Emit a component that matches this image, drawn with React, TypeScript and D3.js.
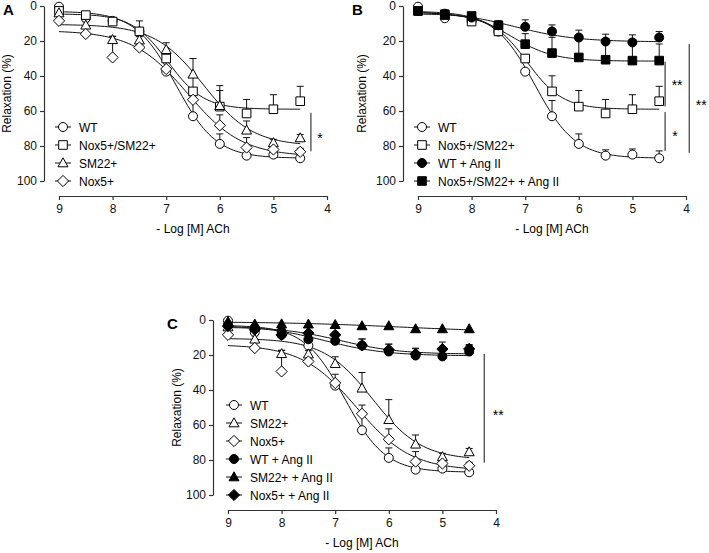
import React, { useEffect, useRef } from "react";
import * as d3 from "d3";

// -log[M] ACh concentrations
const logConc = [9, 8.5, 8, 7.5, 7, 6.5, 6, 5.5, 5, 4.5];

// relaxation (%) means and SEM
const wt = [0.4, 7, 8.5, 14.6, 37.5, 63, 78.8, 85.5, 84.9, 87];
const wtSem = [0, 0, 0, 2, 1, 9, 5.7, 3.3, 3.2, 4.2];
const nox5sm22 = [2.8, 5.2, 8.9, 14.5, 30, 48.8, 57.5, 61.4, 59, 54.4];
const nox5sm22Sem = [0, 0, 1, 6, 2, 8.9, 9.2, 8, 8.3, 8.5];
const sm22 = [4, 11, 19.3, 19.5, 25, 39, 57, 71, 78.2, 75.4];
const sm22Sem = [0, 2, 2, 2, 4, 9, 11.5, 5.3, 2, 2];
const nox5 = [8.5, 16, 29.4, 23.7, 36, 53.6, 68.2, 80.9, 82, 83.3];
const nox5Sem = [0, 0, 12, 2, 5, 5, 6, 5.7, 2, 2];
const wtAng = [2.8, 4.4, 6.6, 11, 11.9, 14.6, 18, 20.3, 20.8, 18];
const wtAngSem = [0, 0, 0, 2, 4, 3.8, 4.2, 4.2, 4.3, 3.4];
const nox5sm22Ang = [2.8, 4.7, 5.7, 11, 21.8, 26.9, 29.4, 30.7, 31.2, 31.2];
const nox5sm22AngSem = [0, 0, 0, 1, 6, 9, 11, 12, 12, 9.5];
const sm22Ang = [1, 2.4, 2.3, 2.4, 2.7, 3.4, 3.4, 5.1, 5.1, 5.1];
const sm22AngSem = [0, 0, 0, 0, 0, 0, 0, 0, 0, 0];
const nox5Ang = [3.5, 5.5, 8.5, 7.5, 8.5, 14.5, 17, 19.4, 16.6, 16.5];
const nox5AngSem = [0, 0, 1, 1, 1.5, 3.6, 3.2, 3, 4, 2.5];

// sigmoidal fit parameters: [top, bottom, pEC50, hill]
const wtFit = [3, 87, 6.82, 1.15];
const nox5sm22Fit = [4.5, 59, 6.97, 1.3];
const sm22Fit = [10.5, 80, 6.3, 0.95];
const nox5Fit = [14, 86, 6.6, 0.85];
const wtAngFit = [3, 20.5, 7.2, 0.75];
const nox5sm22AngFit = [3.5, 31.5, 7.25, 1.1];
const sm22AngFit = [1, 7, 5.8, 0.4];
const nox5AngFit = [4, 19.5, 6.9, 0.8];

const xTicks = [9, 8, 7, 6, 5, 4];
const yTicks = [0, 20, 40, 60, 80, 100];

type Shape = "circle" | "square" | "triangle" | "diamond";
interface Series {
  name: string;
  values: number[];
  sem: number[];
  fit: number[];
  shape: Shape;
  filled: boolean;
}

const S = {
  wt: { name: "WT", values: wt, sem: wtSem, fit: wtFit, shape: "circle", filled: false },
  nox5sm22: { name: "Nox5+/SM22+", values: nox5sm22, sem: nox5sm22Sem, fit: nox5sm22Fit, shape: "square", filled: false },
  sm22: { name: "SM22+", values: sm22, sem: sm22Sem, fit: sm22Fit, shape: "triangle", filled: false },
  nox5: { name: "Nox5+", values: nox5, sem: nox5Sem, fit: nox5Fit, shape: "diamond", filled: false },
  wtAng: { name: "WT + Ang II", values: wtAng, sem: wtAngSem, fit: wtAngFit, shape: "circle", filled: true },
  nox5sm22Ang: { name: "Nox5+/SM22+ + Ang II", values: nox5sm22Ang, sem: nox5sm22AngSem, fit: nox5sm22AngFit, shape: "square", filled: true },
  sm22Ang: { name: "SM22+ + Ang II", values: sm22Ang, sem: sm22AngSem, fit: sm22AngFit, shape: "triangle", filled: true },
  nox5Ang: { name: "Nox5+ + Ang II", values: nox5Ang, sem: nox5AngSem, fit: nox5AngFit, shape: "diamond", filled: true },
} as Record<string, Series>;

// significance brackets: x in -log M, y range in %, label offset
const panels = [
  {
    letter: "A", ox: 44, oy: 6, letterX: 3, letterY: 15, ylabX: -33,
    series: [S.wt, S.nox5sm22, S.sm22, S.nox5],
    brackets: [{ x: 4.3, y0: 61, y1: 83, label: "*", lx: 9, ly: 73 }],
  },
  {
    letter: "B", ox: 403, oy: 6, letterX: 352, letterY: 15, ylabX: -37,
    series: [S.wt, S.nox5sm22, S.wtAng, S.nox5sm22Ang],
    brackets: [
      { x: 4.39, y0: 31.8, y1: 57.4, label: "**", lx: 12, ly: 43 },
      { x: 4.39, y0: 60.6, y1: 82.8, label: "*", lx: 10, ly: 72 },
      { x: 3.94, y0: 21.8, y1: 83.9, label: "**", lx: 12, ly: 54 },
    ],
  },
  {
    letter: "C", ox: 213, oy: 320, letterX: 167, letterY: 329, ylabX: -32,
    series: [S.wt, S.sm22, S.nox5, S.wtAng, S.sm22Ang, S.nox5Ang],
    brackets: [{ x: 4.22, y0: 19.4, y1: 81.5, label: "**", lx: 14, ly: 52 }],
  },
];

const FONT = "'Liberation Sans', Arial, sans-serif";

function shapePath(shape: Shape): string {
  switch (shape) {
    case "circle":
      return "M4.5,0A4.5,4.5 0 1,1 -4.5,0A4.5,4.5 0 1,1 4.5,0Z";
    case "square":
      return "M-4.3,-4.3H4.3V4.3H-4.3Z";
    case "triangle":
      return "M0,-5.2L5,3.8L-5,3.8Z";
    default:
      return "M0,-5.6L5.6,0L0,5.6L-5.6,0Z";
  }
}

function logistic(fit: number[], p: number) {
  const [top, bottom, ec, h] = fit;
  return top + (bottom - top) / (1 + Math.pow(10, (p - ec) * h));
}

const App: React.FC = () => {
  const svgRef = useRef<SVGSVGElement | null>(null);

  useEffect(() => {
    const svg = d3.select(svgRef.current);
    svg.selectAll("*").remove();

    const x = d3.scaleLinear().domain([9, 4]).range([15, 283]);
    const y = d3.scaleLinear().domain([0, 100]).range([0, 175]);
    const axisY = 190;

    panels.forEach((pn) => {
      svg
        .append("text")
        .attr("x", pn.letterX)
        .attr("y", pn.letterY)
        .attr("font-family", FONT)
        .attr("font-weight", "bold")
        .attr("font-size", 15)
        .text(pn.letter);

      const g = svg.append("g").attr("transform", `translate(${pn.ox},${pn.oy})`);

      // axes
      const ya = g
        .append("g")
        .call(d3.axisLeft(y).tickValues(yTicks).tickSize(4).tickSizeOuter(0).tickPadding(3));
      const xa = g
        .append("g")
        .attr("transform", `translate(0,${axisY})`)
        .call(d3.axisBottom(x).tickValues(xTicks).tickSize(4).tickSizeOuter(0).tickPadding(4).tickFormat(d3.format("d")));
      [ya, xa].forEach((a) => {
        a.selectAll("path, line").attr("stroke", "#333").attr("stroke-width", 1.2);
        a.selectAll("text").attr("font-family", FONT).attr("font-size", 12).attr("fill", "#111");
      });

      g.append("text")
        .attr("transform", `translate(${pn.ylabX},${y(50)}) rotate(-90)`)
        .attr("text-anchor", "middle")
        .attr("font-family", FONT)
        .attr("font-size", 12)
        .text("Relaxation (%)");
      g.append("text")
        .attr("x", 149)
        .attr("y", axisY + 37)
        .attr("text-anchor", "middle")
        .attr("font-family", FONT)
        .attr("font-size", 12)
        .text("- Log [M] ACh");

      // fitted curves
      const line = d3
        .line<number>()
        .x((p) => x(p))
        .y((p) => y(0));
      pn.series.forEach((s) => {
        const ps = d3.range(9, 4.49, -0.05);
        g.append("path")
          .attr("d", line.y((p) => y(logistic(s.fit, p)))(ps))
          .attr("fill", "none")
          .attr("stroke", "#111")
          .attr("stroke-width", 1);
      });

      // error bars (upward)
      pn.series.forEach((s) => {
        s.values.forEach((v, i) => {
          const e = s.sem[i];
          if (e <= 0.5) return;
          const cx = x(logConc[i]);
          g.append("line")
            .attr("x1", cx).attr("x2", cx)
            .attr("y1", y(v)).attr("y2", y(v - e))
            .attr("stroke", "#111").attr("stroke-width", 1);
          g.append("line")
            .attr("x1", cx - 3.5).attr("x2", cx + 3.5)
            .attr("y1", y(v - e)).attr("y2", y(v - e))
            .attr("stroke", "#111").attr("stroke-width", 1);
        });
      });

      // markers
      pn.series.forEach((s) => {
        g.selectAll(null)
          .data(s.values)
          .enter()
          .append("path")
          .attr("d", shapePath(s.shape))
          .attr("transform", (v, i) => `translate(${x(logConc[i])},${y(v)})`)
          .attr("fill", s.filled ? "#000" : "#fff")
          .attr("stroke", "#000")
          .attr("stroke-width", 1);
      });

      // legend
      const n = pn.series.length;
      pn.series.forEach((s, i) => {
        const ly = 175 - (n - 1 - i) * 18;
        const lx = pn.letter === "C" ? 21 : 19;
        g.append("line")
          .attr("x1", lx - 8).attr("x2", lx + 8)
          .attr("y1", ly).attr("y2", ly)
          .attr("stroke", "#111").attr("stroke-width", 1);
        g.append("path")
          .attr("d", shapePath(s.shape))
          .attr("transform", `translate(${lx},${ly})`)
          .attr("fill", s.filled ? "#000" : "#fff")
          .attr("stroke", "#000");
        g.append("text")
          .attr("x", lx + 16)
          .attr("y", ly + 4.5)
          .attr("font-family", FONT)
          .attr("font-size", 12)
          .text(s.name);
      });

      // significance brackets
      pn.brackets.forEach((b) => {
        g.append("line")
          .attr("x1", x(b.x)).attr("x2", x(b.x))
          .attr("y1", y(b.y0)).attr("y2", y(b.y1))
          .attr("stroke", "#111").attr("stroke-width", 1);
        g.append("text")
          .attr("x", x(b.x) + b.lx)
          .attr("y", y(b.ly) + 9)
          .attr("text-anchor", "middle")
          .attr("font-family", FONT)
          .attr("font-size", 14)
          .text(b.label);
      });
    });
  }, []);

  return (
    <svg
      ref={svgRef}
      width={709}
      height={553}
      style={{ position: "absolute", left: 0, top: 0, background: "#fff" }}
    />
  );
};

export default App;
